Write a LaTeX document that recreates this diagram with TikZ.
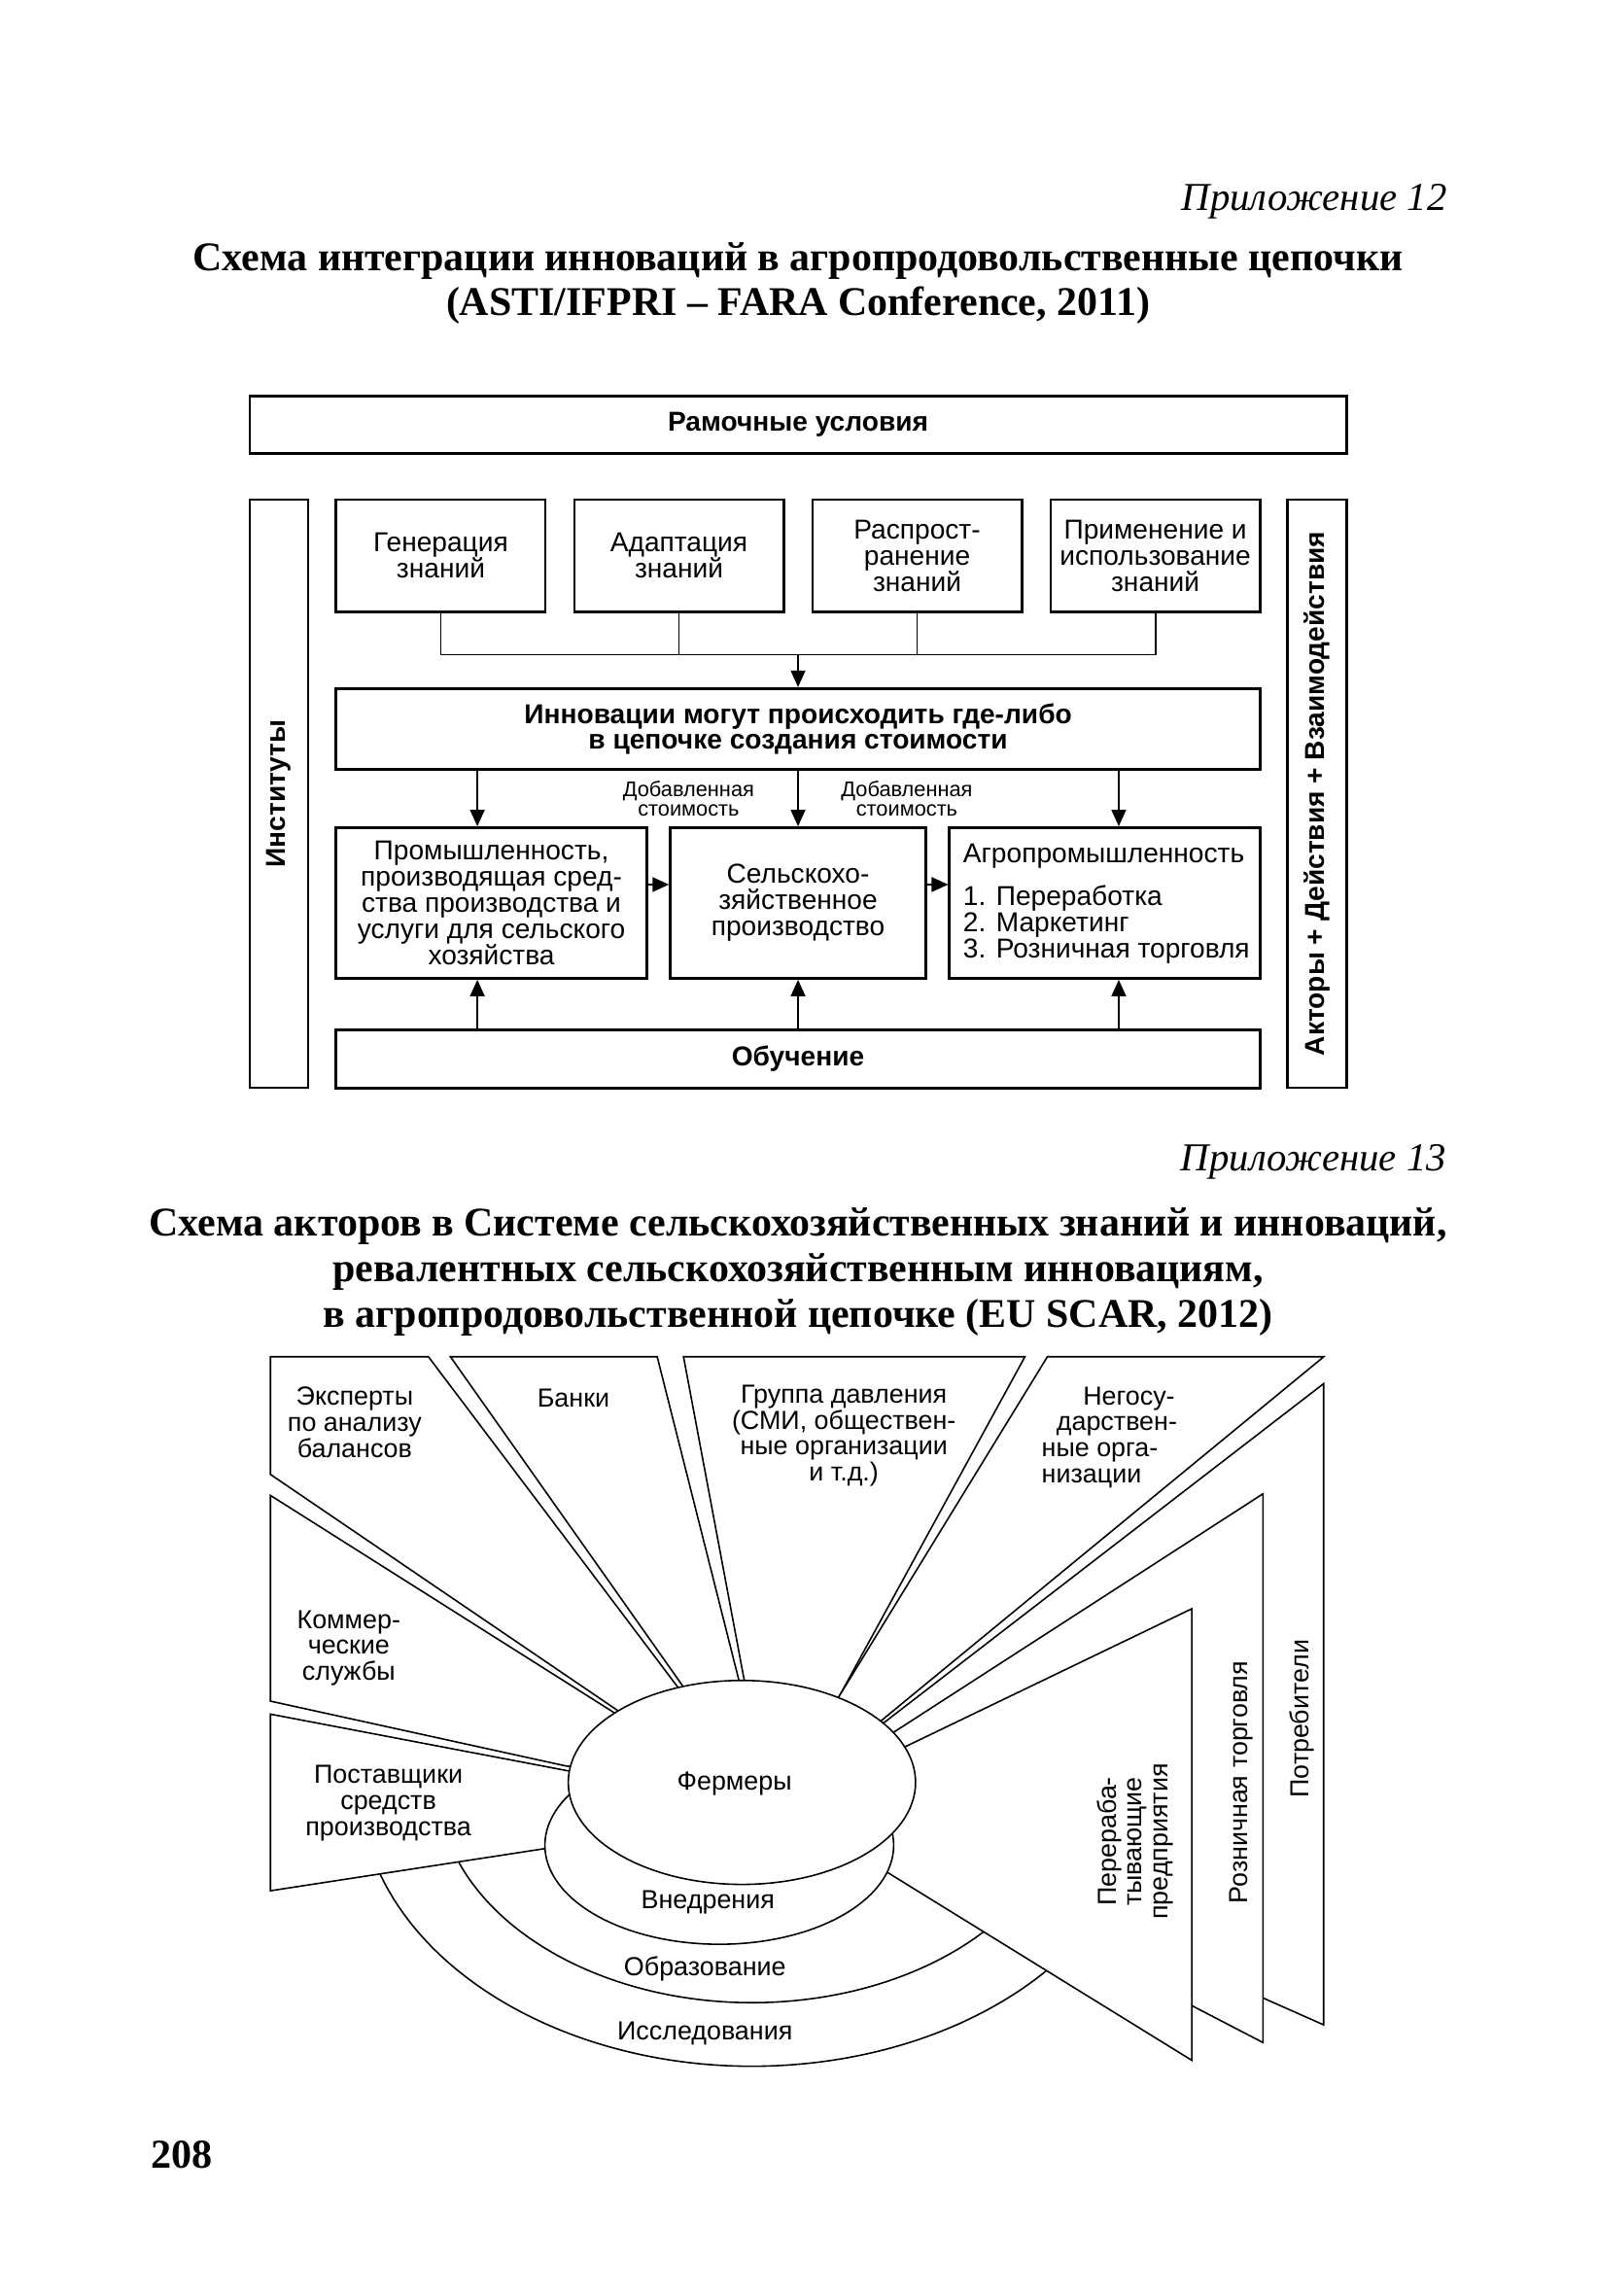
\documentclass[tikz,border=0pt]{standalone}
\usepackage{fontspec}
\setmainfont{Liberation Serif}
\setsansfont{Liberation Sans}
\usetikzlibrary{arrows.meta}
\newdimen\uu
\uu=0.15204mm
\begin{document}
\begin{tikzpicture}[x=0.15204mm, y=-0.15204mm,
  box/.style={draw, line width=0.8pt, inner sep=0pt},
  st/.style={font=\sffamily\fontsize{8}{7.7}\selectfont, align=center, inner sep=0pt},
  stb/.style={font=\sffamily\bfseries\fontsize{8}{7.6}\selectfont, align=center, inner sep=0pt},
  sm/.style={font=\sffamily\fontsize{6.2}{5.8}\selectfont, align=center, inner sep=0pt},
  conn/.style={line width=0.5pt},
  arr/.style={line width=0.5pt, -{Triangle[length=1.7mm, width=1.5mm]}},
  wedge/.style={draw, fill=white, line width=0.45pt, line join=miter},
  ring/.style={draw, line width=0.45pt},
  lt/.style={font=\sffamily\fontsize{7.65}{7.6}\selectfont, align=center, inner sep=0pt},
  ttl/.style={font=\bfseries\fontsize{11.93}{12}\selectfont, inner sep=0pt, anchor=base},
  app/.style={font=\itshape\fontsize{11.6}{12}\selectfont, inner sep=0pt, anchor=base east},
]
\useasboundingbox (0,0) rectangle (1080,1553.5);

% ---------- Titles ----------
\node[app] (app12) at (979.5,142.5) {Приложение 12};
\node[ttl] (t1a) at (540,183.2) {Схема интеграции инноваций в агропродовольственные цепочки};
\node[ttl] (t1b) at (540,213.7) {(ASTI/IFPRI – FARA Conference, 2011)};

% ---------- Upper diagram ----------
\node[box, stb, minimum width=742\uu, minimum height=39\uu] (frame) at (540,287.5) {Рамочные условия};
\node[box, stb, rotate=90, minimum width=398\uu, minimum height=39.5\uu] (inst) at (188.75,537) {Институты};
\node[box, stb, rotate=90, minimum width=398\uu, minimum height=40\uu] (act) at (891,537) {Акторы + Действия + Взаимодействия};

\node[box, st, minimum width=141.5\uu, minimum height=76\uu] (gen) at (298.25,376) {Генерация\\знаний};
\node[box, st, minimum width=141.5\uu, minimum height=76\uu] (ada) at (459.42,376) {Адаптация\\знаний};
\node[box, st, minimum width=141.5\uu, minimum height=76\uu] (dis) at (620.58,376) {Распрост-\\ранение\\знаний};
\node[box, st, minimum width=141.5\uu, minimum height=76\uu] (use) at (781.75,376) {Применение и\\использование\\знаний};

\node[box, stb, minimum width=625\uu, minimum height=55\uu] (inn) at (540,493.3) {Инновации могут происходить где-либо\\в цепочке создания стоимости};

\node[box, st, minimum width=210\uu, minimum height=102\uu] (ind) at (332.5,611) {Промышленность,\\производящая сред-\\ства производства и\\услуги для сельского\\хозяйства};
\node[box, st, minimum width=172.8\uu, minimum height=102\uu] (agr) at (540,611) {Сельскохо-\\зяйственное\\производство};
\node[box, minimum width=210\uu, minimum height=102\uu] (agi) at (747.5,611) {};
\node[st, align=left, anchor=west] (agi-t) at (651.3,611.5) {Агропромышленность\\[5pt]1. Переработка\\2. Маркетинг\\3. Розничная торговля};

\node[box, stb, minimum width=625\uu, minimum height=39.3\uu] (learn) at (540,716.4) {Обучение};

\node[sm] (va1) at (465.9,540.5) {Добавленная\\стоимость};
\node[sm] (va2) at (613.6,540.5) {Добавленная\\стоимость};

\coordinate (hl) at (540,443);
\draw[conn] (gen.south) -- (gen.south |- hl) -- (use.south |- hl) -- (use.south);
\draw[conn] (ada.south) -- (ada.south |- hl);
\draw[conn] (dis.south) -- (dis.south |- hl);
\draw[arr] (hl) -- (inn.north);
\coordinate (xl) at (323,0);
\coordinate (xr) at (757,0);
\coordinate (ya) at (0,598.5);
\draw[arr] (inn.south -| xl) -- (ind.north -| xl);
\draw[arr] (inn.south) -- (agr.north);
\draw[arr] (inn.south -| xr) -- (agi.north -| xr);
\draw[arr] (learn.north -| xl) -- (ind.south -| xl);
\draw[arr] (learn.north) -- (agr.south);
\draw[arr] (learn.north -| xr) -- (agi.south -| xr);
\draw[arr] (ind.east |- ya) -- (agr.west |- ya);
\draw[arr] (agr.east |- ya) -- (agi.west |- ya);

% ---------- Second title ----------
\node[app] (app13) at (979,792.5) {Приложение 13};
\node[ttl] (t2a) at (540,836.5) {Схема акторов в Системе сельскохозяйственных знаний и инноваций,};
\node[ttl] (t2b) at (540,867.2) {ревалентных сельскохозяйственным инновациям,};
\node[ttl] (t2c) at (540,898) {в агропродовольственной цепочке (EU SCAR, 2012)};

% ---------- Lower diagram ----------
\coordinate (fc) at (502,1206);
% rings
\draw[ring] (509,1206) ++(170:266 and 192) arc[start angle=170, end angle=30, x radius=266, y radius=192];
\draw[ring] (509,1206) ++(170:213 and 149) arc[start angle=170, end angle=30, x radius=213, y radius=149];

% wedges
\draw[wedge] (183,918) -- (289.9,918) -- (459.5,1142.7) -- (fc) -- (418.3,1157.6) -- (183,997.6) -- cycle;
\draw[wedge] (183,1011.8) -- (415.4,1158.7) -- (fc) -- (383.1,1194.9) -- (183,1151) -- cycle;
\draw[wedge] (183,1159.8) -- (384.6,1198.2) -- (fc) -- (368.5,1250.8) -- (183,1279.3) -- cycle;
\draw[wedge] (304.8,918) -- (444.7,918) -- (500.5,1139) -- (fc) -- (463,1142.2) -- cycle;
\draw[wedge] (462.5,918) -- (693.5,918) -- (566.6,1150) -- (fc) -- (504,1139) -- cycle;
\draw[wedge] (708.7,918) -- (895.7,918) -- (596.3,1164.2) -- (fc) -- (567,1149) -- cycle;

% stacked chain shapes
\draw[wedge] (895.6,936.2) -- (895.6,1370) -- (855,1352) -- (fc) -- (598.5,1165.3) -- cycle;
\draw[wedge] (854.6,1010.7) -- (854.6,1382) -- (806.4,1357) -- (fc) -- (605.1,1171.8) -- cycle;
\draw[wedge] (806.4,1088.5) -- (806.4,1394) -- (602.3,1268) -- (fc) -- (612.8,1181.7) -- cycle;

% ellipses
\draw[wedge] (486.7,1248.5) ellipse [x radius=118, y radius=67];
\draw[wedge] (fc) ellipse [x radius=117.5, y radius=69];

% texts
\node[lt] (exp) at (240,962.5) {Эксперты\\по анализу\\балансов};
\node[lt] (bank) at (388,946) {Банки};
\node[lt] (press) at (571,971.5) {Группа давления\\(СМИ, обществен-\\ные организации\\и т.д.)};
\node[lt, align=left, anchor=west] (ngo) at (704.4,972.5) {\hspace*{4.26mm}Негосу-\\\hspace*{1.52mm}дарствен-\\ные орга-\\низации};
\node[lt] (comm) at (236,1115) {Коммер-\\ческие\\службы};
\node[lt] (supp) at (262.8,1220) {Поставщики\\средств\\производства};
\node[lt] (farm) at (497,1207) {Фермеры};
\node[lt] (impl) at (479,1287) {Внедрения};
\node[lt] (edu) at (477,1332) {Образование};
\node[lt] (res) at (477,1375.8) {Исследования};
\node[lt, rotate=90] (proc) at (768,1246) {Перераба-\\тывающие\\предприятия};
\node[lt, rotate=90] (retail) at (840.1,1206) {Розничная торговля};
\node[lt, rotate=90] (cons) at (880.7,1163) {Потребители};

% page number
\node[font=\bfseries\fontsize{12}{12}\selectfont, inner sep=0pt, anchor=base west] (pg) at (102,1466.7) {208};
\end{tikzpicture}
\end{document}
